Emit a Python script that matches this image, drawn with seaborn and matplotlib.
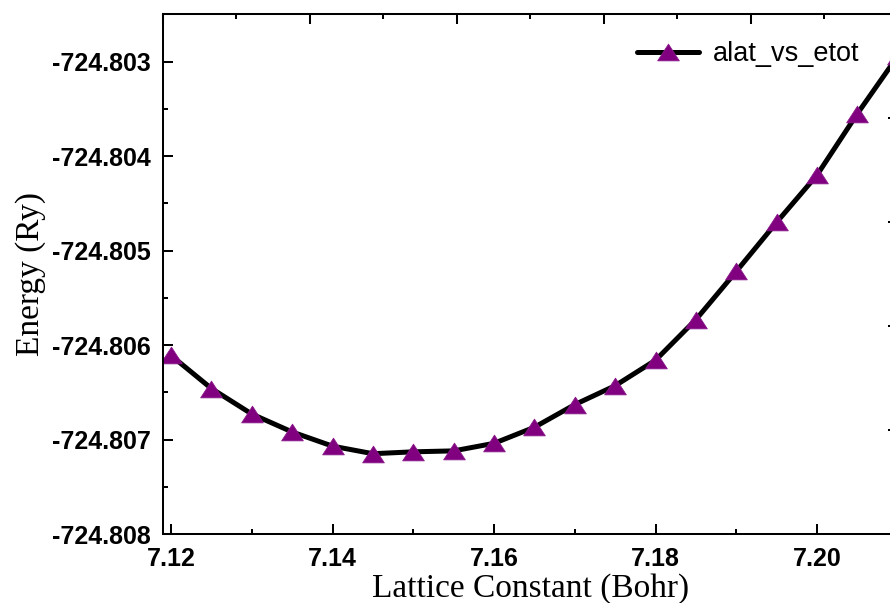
import numpy as np
import pandas as pd
import matplotlib
matplotlib.use('Agg')
import matplotlib.pyplot as plt
import seaborn as sns
from matplotlib.ticker import MultipleLocator, FormatStrFormatter, NullFormatter
from matplotlib.path import Path
from matplotlib.lines import TICKDOWN

# ---- data ----
alat = [7.120, 7.125, 7.130, 7.135, 7.140, 7.145, 7.150, 7.155, 7.160, 7.165,
        7.170, 7.175, 7.180, 7.185, 7.190, 7.195, 7.200, 7.205, 7.210]
etot = [-724.80611, -724.80646, -724.80673, -724.80692, -724.80707, -724.80715,
        -724.80713, -724.80712, -724.80704, -724.80687, -724.80663, -724.80643,
        -724.80616, -724.80573, -724.80522, -724.80470, -724.80420, -724.80355,
        -724.80294]
series_label = 'alat_vs_etot'
x_label = 'Lattice Constant (Bohr)'
y_label = 'Energy (Ry)'
frame_major = [0.0, 0.2, 0.4, 0.6, 0.8, 1.0]
frame_minor = [0.1, 0.3, 0.5, 0.7, 0.9]

sns.set_theme(style='ticks')
plt.rcParams['font.family'] = ['Liberation Sans', 'DejaVu Sans']

W, H = 890, 603
L, R, T, B = 163, 897.75, 14, 534
XLIM = (7.119, 7.210)
YLIM = (-724.808, -724.802495)
spine_w = 1.45
fig = plt.figure(figsize=(W / 100, H / 100), dpi=100)
fig.patch.set_facecolor('white')
pos = [L / W, 1 - B / H, (R - L) / W, (B - T) / H]
ax = fig.add_axes(pos)

df = pd.DataFrame({'alat': alat, 'etot': etot})
tri = Path([(0, 0.77), (-1, -0.77), (1, -0.77), (0, 0.77)],
           [Path.MOVETO, Path.LINETO, Path.LINETO, Path.CLOSEPOLY])
sns.lineplot(data=df, x='alat', y='etot', ax=ax, color='black', linewidth=3.6,
             marker=tri, markersize=15.6, markerfacecolor='#800080',
             markeredgecolor='#8a1a8a', markeredgewidth=0.6, label=series_label)

ax.set_xlim(*XLIM)
ax.set_ylim(*YLIM)
ax.xaxis.set_major_locator(MultipleLocator(0.02))
ax.xaxis.set_minor_locator(MultipleLocator(0.01))
ax.yaxis.set_major_locator(MultipleLocator(0.001))
ax.yaxis.set_minor_locator(MultipleLocator(0.0005))
ax.xaxis.set_major_formatter(FormatStrFormatter('%.2f'))
ax.yaxis.set_major_formatter(FormatStrFormatter('%.3f'))

for s in ax.spines.values():
    s.set_visible(True)
    s.set_linewidth(spine_w)
    s.set_color('black')

ax.tick_params(axis='both', which='major', direction='in', length=7.2, width=spine_w,
               color='black', labelsize=18, labelcolor='black')
ax.tick_params(axis='both', which='minor', direction='in', length=3.6, width=spine_w,
               color='black')
ax.tick_params(axis='x', which='major', pad=9)
ax.tick_params(axis='y', which='major', pad=8.6)
for lab in ax.get_xticklabels() + ax.get_yticklabels():
    lab.set_fontweight('bold')

ax.set_xlabel(x_label, fontsize=24, family=['Liberation Serif', 'DejaVu Serif'], color='black')
ax.set_ylabel(y_label, fontsize=24, family=['Liberation Serif', 'DejaVu Serif'], color='black')
ax.xaxis.set_label_coords(0.5, -(573 - B) / (B - T))
ax.yaxis.set_label_coords((46 - L) / (R - L), 0.5)

# top and right frame ticks on an independent 0..1 scale (as in the reference)
fx = (lambda v: (v - XLIM[0]) / (XLIM[1] - XLIM[0]),
      lambda u: XLIM[0] + u * (XLIM[1] - XLIM[0]))
fy = (lambda v: (v - YLIM[0]) / (YLIM[1] - YLIM[0]),
      lambda u: YLIM[0] + u * (YLIM[1] - YLIM[0]))
sec_x = ax.secondary_xaxis('top', functions=fx)
sec_x.set_xticks(frame_major)
sec_x.set_xticks(frame_minor, minor=True)
sec_x.xaxis.set_major_formatter(NullFormatter())
sec_x.tick_params(axis='x', which='major', direction='in', length=7.2, width=spine_w,
                  color='black', labeltop=False)
sec_x.tick_params(axis='x', which='minor', direction='in', length=3.6, width=spine_w,
                  color='black')
sec_y = ax.secondary_yaxis('right', functions=fy)
sec_y.set_yticks(frame_major)
sec_y.set_yticks(frame_minor, minor=True)
sec_y.yaxis.set_major_formatter(NullFormatter())
sec_y.tick_params(axis='y', which='major', direction='in', length=7.2, width=spine_w,
                  color='black', labelright=False)
sec_y.tick_params(axis='y', which='minor', direction='in', length=3.6, width=spine_w,
                  color='black')
for sec in (sec_x, sec_y):
    for s in sec.spines.values():
        s.set_linewidth(spine_w)
        s.set_color('black')

# explicit inward top-edge tick marks (frame decoration, drawn above everything)
ax.plot(frame_major, [1.0] * len(frame_major), transform=ax.transAxes, linestyle='none',
        marker=TICKDOWN, markersize=7.2, markeredgewidth=spine_w, color='black',
        clip_on=False, zorder=20)
ax.plot(frame_minor, [1.0] * len(frame_minor), transform=ax.transAxes, linestyle='none',
        marker=TICKDOWN, markersize=3.6, markeredgewidth=spine_w, color='black',
        clip_on=False, zorder=20)

leg = ax.legend(handles=ax.get_legend_handles_labels()[0][:1], labels=[series_label],
                loc='upper right', frameon=False, fontsize=19.5, handlelength=2.3,
                handletextpad=0.5, borderpad=0, borderaxespad=0, numpoints=1,
                bbox_to_anchor=((859 - L) / (R - L), 1 - (41 - T) / (B - T)))
for t in leg.get_texts():
    t.set_color('black')

fig.savefig('out.png', dpi=100, facecolor='white')
